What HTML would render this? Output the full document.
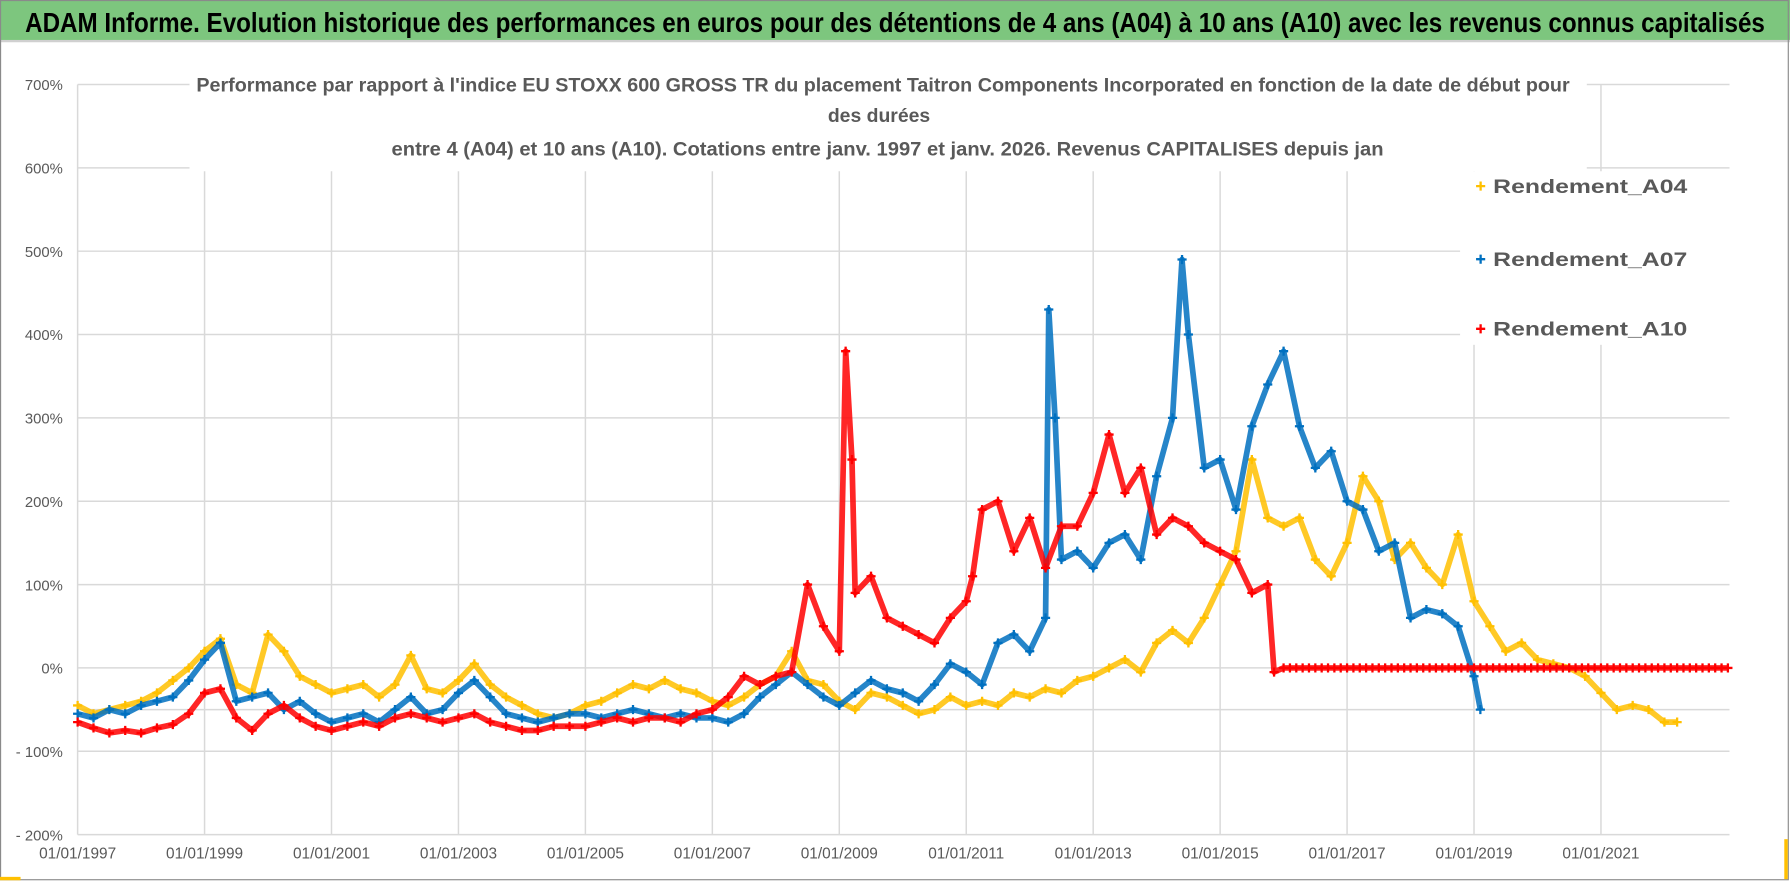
<!DOCTYPE html>
<html><head><meta charset="utf-8"><style>
html,body{margin:0;padding:0;background:#fff;}
svg{display:block;}
text{font-family:"Liberation Sans",sans-serif;}
</style></head><body>
<svg id="chart" width="1790" height="886" viewBox="0 0 1568 776" preserveAspectRatio="none" xmlns="http://www.w3.org/2000/svg">
<rect x="0" y="0" width="1568" height="776" fill="#fff"/>
<rect x="0" y="0" width="1568" height="35" fill="#7dc67e"/>
<line x1="0" y1="36" x2="1568" y2="36" stroke="#d0d0d0" stroke-width="2"/>
<text x="22" y="28" font-size="24" font-weight="bold" fill="#000" textLength="1524" lengthAdjust="spacingAndGlyphs">ADAM Informe. Evolution historique des performances en euros pour des détentions de 4 ans (A04) à 10 ans (A10) avec les revenus connus capitalisés</text>
<g id="grid"></g>
<g id="series"></g>
<rect x="166" y="62" width="1224" height="88" fill="#fff"/>
<rect x="1279" y="150" width="250" height="152" fill="#fff"/>
<g font-weight="bold" fill="#595959" font-size="17">
<text x="172" y="80" textLength="1203" lengthAdjust="spacingAndGlyphs">Performance par rapport à l'indice EU STOXX 600 GROSS TR  du placement Taitron Components Incorporated en fonction de la date de début pour</text>
<text x="770" y="107" text-anchor="middle">des durées</text>
<text x="343" y="136" textLength="869" lengthAdjust="spacingAndGlyphs">entre 4 (A04) et 10 ans (A10).  Cotations entre janv. 1997 et janv. 2026. Revenus CAPITALISES depuis jan</text>
</g>
<g id="axes"></g>
<g id="legend"></g>
<rect x="0.5" y="0.5" width="1566" height="770" fill="none" stroke="#8a8a8a" stroke-width="1"/>
<rect x="0" y="768" width="18" height="3" fill="#ffc000"/>
<rect x="1563" y="735" width="3" height="35" fill="#ffc000"/>
</svg>
<script>
const yTicks=[700,600,500,400,300,200,100,0,-100,-200];
const xTickYears=[1997,1999,2001,2003,2005,2007,2009,2011,2013,2015,2017,2019,2021];
const a04Dates=[1997,1997.25,1997.5,1997.75,1998,1998.25,1998.5,1998.75,1999,1999.25,1999.5,1999.75,2000,2000.25,2000.5,2000.75,2001,2001.25,2001.5,2001.75,2002,2002.25,2002.5,2002.75,2003,2003.25,2003.5,2003.75,2004,2004.25,2004.5,2004.75,2005,2005.25,2005.5,2005.75,2006,2006.25,2006.5,2006.75,2007,2007.25,2007.5,2007.75,2008,2008.25,2008.5,2008.75,2009,2009.25,2009.5,2009.75,2010,2010.25,2010.5,2010.75,2011,2011.25,2011.5,2011.75,2012,2012.25,2012.5,2012.75,2013,2013.25,2013.5,2013.75,2014,2014.25,2014.5,2014.75,2015,2015.25,2015.5,2015.75,2016,2016.25,2016.5,2016.75,2017,2017.25,2017.5,2017.75,2018,2018.25,2018.5,2018.75,2019,2019.25,2019.5,2019.75,2020,2020.25,2020.5,2020.75,2021,2021.25,2021.5,2021.75,2022,2022.2];
const a04Values=[-45,-55,-50,-45,-40,-30,-15,0,20,35,-20,-30,40,20,-10,-20,-30,-25,-20,-35,-20,15,-25,-30,-15,5,-20,-35,-45,-55,-60,-55,-45,-40,-30,-20,-25,-15,-25,-30,-40,-45,-35,-20,-10,20,-15,-20,-40,-50,-30,-35,-45,-55,-50,-35,-45,-40,-45,-30,-35,-25,-30,-15,-10,0,10,-5,30,45,30,60,100,140,250,180,170,180,130,110,150,230,200,130,150,120,100,160,80,50,20,30,10,5,0,-10,-30,-50,-45,-50,-65,-65];
const a07Dates=[1997,1997.25,1997.5,1997.75,1998,1998.25,1998.5,1998.75,1999,1999.25,1999.5,1999.75,2000,2000.25,2000.5,2000.75,2001,2001.25,2001.5,2001.75,2002,2002.25,2002.5,2002.75,2003,2003.25,2003.5,2003.75,2004,2004.25,2004.5,2004.75,2005,2005.25,2005.5,2005.75,2006,2006.25,2006.5,2006.75,2007,2007.25,2007.5,2007.75,2008,2008.25,2008.5,2008.75,2009,2009.25,2009.5,2009.75,2010,2010.25,2010.5,2010.75,2011,2011.25,2011.5,2011.75,2012,2012.25,2012.3,2012.4,2012.5,2012.75,2013,2013.25,2013.5,2013.75,2014,2014.25,2014.4,2014.5,2014.75,2015,2015.25,2015.5,2015.75,2016,2016.25,2016.5,2016.75,2017,2017.25,2017.5,2017.75,2018,2018.25,2018.5,2018.75,2019,2019.1];
const a07Values=[-55,-60,-50,-55,-45,-40,-35,-15,10,30,-40,-35,-30,-50,-40,-55,-65,-60,-55,-65,-50,-35,-55,-50,-30,-15,-35,-55,-60,-65,-60,-55,-55,-60,-55,-50,-55,-60,-55,-60,-60,-65,-55,-35,-20,-5,-20,-35,-45,-30,-15,-25,-30,-40,-20,5,-5,-20,30,40,20,60,430,300,130,140,120,150,160,130,230,300,490,400,240,250,190,290,340,380,290,240,260,200,190,140,150,60,70,65,50,-10,-50];
const a10Dates=[1997,1997.25,1997.5,1997.75,1998,1998.25,1998.5,1998.75,1999,1999.25,1999.5,1999.75,2000,2000.25,2000.5,2000.75,2001,2001.25,2001.5,2001.75,2002,2002.25,2002.5,2002.75,2003,2003.25,2003.5,2003.75,2004,2004.25,2004.5,2004.75,2005,2005.25,2005.5,2005.75,2006,2006.25,2006.5,2006.75,2007,2007.25,2007.5,2007.75,2008,2008.25,2008.5,2008.75,2009,2009.1,2009.2,2009.25,2009.5,2009.75,2010,2010.25,2010.5,2010.75,2011,2011.1,2011.25,2011.5,2011.75,2012,2012.25,2012.5,2012.75,2013,2013.25,2013.5,2013.75,2014,2014.25,2014.5,2014.75,2015,2015.25,2015.5,2015.75,2015.85,2016,2016.1,2016.2,2016.3,2016.4,2016.5,2016.6,2016.7,2016.8,2016.9,2017,2017.1,2017.2,2017.3,2017.4,2017.5,2017.6,2017.7,2017.8,2017.9,2018,2018.1,2018.2,2018.3,2018.4,2018.5,2018.6,2018.7,2018.8,2018.9,2019,2019.1,2019.2,2019.3,2019.4,2019.5,2019.6,2019.7,2019.8,2019.9,2020,2020.1,2020.2,2020.3,2020.4,2020.5,2020.6,2020.7,2020.8,2020.9,2021,2021.1,2021.2,2021.3,2021.4,2021.5,2021.6,2021.7,2021.8,2021.9,2022,2022.1,2022.2,2022.3,2022.4,2022.5,2022.6,2022.7,2022.8,2022.9,2023];
const a10Values=[-65,-72,-78,-75,-78,-72,-68,-55,-30,-25,-60,-75,-55,-45,-60,-70,-75,-70,-65,-70,-60,-55,-60,-65,-60,-55,-65,-70,-75,-75,-70,-70,-70,-65,-60,-65,-60,-60,-65,-55,-50,-35,-10,-20,-10,-5,100,50,20,380,250,90,110,60,50,40,30,60,80,110,190,200,140,180,120,170,170,210,280,210,240,160,180,170,150,140,130,90,100,-5,0,0,0,0,0,0,0,0,0,0,0,0,0,0,0,0,0,0,0,0,0,0,0,0,0,0,0,0,0,0,0,0,0,0,0,0,0,0,0,0,0,0,0,0,0,0,0,0,0,0,0,0,0,0,0,0,0,0,0,0,0,0,0,0,0,0,0,0,0,0,0,0,0];
const NS='http://www.w3.org/2000/svg';
const X0=68,PX_PER_YEAR=55.6,Y0=585,PX_PER_PCT=0.73,XR=1515;
function xs(t){return X0+(t-1997)*PX_PER_YEAR;}
function ys(v){return Y0-v*PX_PER_PCT;}
function mk(tag,attrs,parent){const e=document.createElementNS(NS,tag);for(const k in attrs)e.setAttribute(k,attrs[k]);parent.appendChild(e);return e;}
const grid=document.getElementById('grid'),axes=document.getElementById('axes'),series=document.getElementById('series'),legend=document.getElementById('legend');
yTicks.forEach(v=>{
  const l=mk('line',{x1:X0,x2:XR,y1:ys(v),y2:ys(v),stroke:'#d9d9d9','stroke-width':1.3},grid);
  
  
  const t=mk('text',{x:55,y:ys(v)+5,'text-anchor':'end','font-size':13,fill:'#595959'},axes);
  t.textContent=(v<0?'- '+(-v):v)+'%';
  
  
});
const half=mk('line',{x1:X0,x2:XR,y1:ys(-50),y2:ys(-50),stroke:'#d9d9d9','stroke-width':1.3},grid);


xTickYears.forEach(yr=>{
  const l=mk('line',{x1:xs(yr),x2:xs(yr),y1:ys(700),y2:ys(-200),stroke:'#d9d9d9','stroke-width':1.3},grid);
  
  
  const t=mk('text',{x:xs(yr),y:752,'text-anchor':'middle','font-size':13.5,fill:'#595959'},axes);
  t.textContent='01/01/'+yr;
  
  
});
function drawSeries(name,dates,vals,color){
  const g=mk('g',{},series);
  
  
  const pts=dates.map((d,i)=>xs(d).toFixed(1)+','+ys(vals[i]).toFixed(1)).join(' ');
  const pl=mk('polyline',{points:pts,fill:'none',stroke:color,'stroke-width':5,'stroke-linejoin':'round',opacity:0.85},g);
  
  
  dates.forEach((d,i)=>{
    const x=xs(d),y=ys(vals[i]),s=4;
    const p=mk('path',{d:`M${x-s},${y}H${x+s}M${x},${y-s}V${y+s}`,stroke:color,'stroke-width':2},g);
    
    
  });
}
drawSeries('series-a04',a04Dates,a04Values,'#ffc000');
drawSeries('series-a07',a07Dates,a07Values,'#0070c0');
drawSeries('series-a10',a10Dates,a10Values,'#ff0000');
[['Rendement_A04','#ffc000',163],['Rendement_A07','#0070c0',227],['Rendement_A10','#ff0000',288]].forEach(([lab,c,y])=>{
  const g=mk('g',{},legend);
  
  
  mk('path',{d:`M1293,${y}H1301M1297,${y-4}V${y+4}`,stroke:c,'stroke-width':2},g);
  const t=mk('text',{x:1308,y:y+6,'font-size':17,'font-weight':'bold',fill:'#595959',textLength:170,lengthAdjust:'spacingAndGlyphs'},g);
  t.textContent=lab;
});
</script>
</body></html>
